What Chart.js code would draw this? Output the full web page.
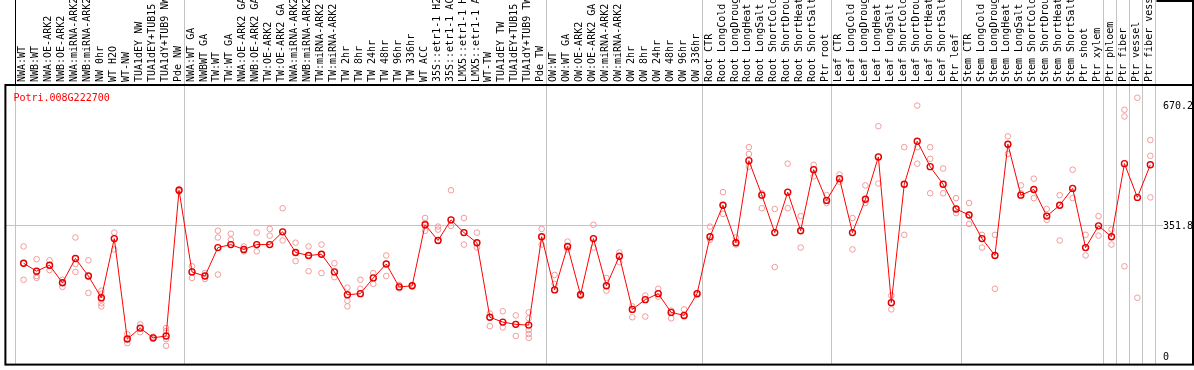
<!DOCTYPE html>
<html><head><meta charset="utf-8">
<script src="https://cdn.jsdelivr.net/npm/chart.js@4/dist/chart.umd.min.js"></script>
<style>html,body{margin:0;padding:0;background:#fff;}canvas{display:block;}</style>
</head><body>
<canvas id="c" width="1194" height="370"></canvas>
<script>
const geneId = 'Potri.008G222700';
const categories = ['NWA:WT','NWB:WT','NWA:OE-ARK2','NWB:OE-ARK2','NWA:miRNA-ARK2','NWB:miRNA-ARK2','NW 0hr','WT H2O','WT-NW','TUA1dEY NW','TUA1dEY+TUB15 NW','TUA1dY+TUB9 NW','Pde NW',
'NWA:WT GA','NWBWT GA','TW:WT','TW:WT GA','NWA:OE-ARK2 GA','NWB:OE-ARK2 GA','TW:OE-ARK2','TW:OE-ARK2 GA','NWA:miRNA-ARK2','NWB:miRNA-ARK2','TW:miRNA-ARK2','TW:miRNA-ARK2','TW 2hr','TW 8hr','TW 24hr','TW 48hr','TW 96hr','TW 336hr','WT ACC','35S::etr1-1 H2O','35S::etr1-1 ACC','LMX5::etr1-1 H2O','LMX5::etr1-1 ACC','WT-TW','TUA1dEY TW','TUA1dEY+TUB15 TW','TUA1dY+TUB9 TW','Pde TW',
'OW:WT','OW:WT GA','OW:OE-ARK2','OW:OE-ARK2 GA','OW:miRNA-ARK2','OW:miRNA-ARK2','OW 2hr','OW 8hr','OW 24hr','OW 48hr','OW 96hr','OW 336hr',
'Root CTR','Root LongCold','Root LongDrought','Root LongHeat','Root LongSalt','Root ShortCold','Root ShortDrought','Root ShortHeat','Root ShortSalt','Ptr root',
'Leaf CTR','Leaf LongCold','Leaf LongDrought','Leaf LongHeat','Leaf LongSalt','Leaf ShortCold','Leaf ShortDrought','Leaf ShortHeat','Leaf ShortSalt','Ptr leaf',
'Stem CTR','Stem LongCold','Stem LongDrought','Stem LongHeat','Stem LongSalt','Stem ShortCold','Stem ShortDrought','Stem ShortHeat','Stem ShortSalt','Ptr shoot','Ptr xylem','Ptr phloem','Ptr fiber','Ptr vessel','Ptr fiber vessel'];

const meanValues = [252,231,247,200,265,218,160,318,50,79,53,58,447,
 229,218,294,302,289,302,302,336,281,273,276,229,168,171,213,250,189,192,355,313,368,334,307,108,95,89,87,323,
 181,297,168,318,192,271,129,155,171,121,113,171,
 323,407,307,526,434,334,442,339,502,420,
 478,334,423,536,147,463,578,510,463,397,
 381,318,273,570,434,449,378,407,452,294,352,323,518,428,515];

const rep1 = [297,263,260,208,321,260,179,334,63,89,56,79,450,
 244,226,339,331,297,334,344,399,307,297,302,252,187,208,226,273,194,194,373,350,447,373,334,118,124,113,121,344,
 221,310,171,355,213,281,137,166,184,126,129,173,
 350,442,321,562,439,397,518,378,515,434,
 489,373,460,618,166,562,673,562,505,426,
 413,328,328,591,460,478,397,434,502,328,378,342,662,694,581];

const rep2 = [208,213,234,189,250,173,171,289,39,68,50,71,444,
 213,210,321,315,284,284,326,313,258,231,226,215,152,184,197,218,189,190,360,342,352,302,294,84,81,58,105,302,
 197,289,168,294,179,255,108,110,163,105,113,170,
 315,384,302,544,399,242,399,294,484,413,
 470,289,413,465,129,328,562,531,439,386,
 357,294,184,544,439,426,368,313,426,273,326,302,644,160,539];

const rep3 = [252,218,247,200,229,218,155,318,50,79,53,50,447,
 229,218,222,302,289,302,302,336,281,273,276,229,137,171,213,250,185,192,339,313,368,334,307,108,95,89,74,323,
 181,297,165,318,192,271,129,155,171,121,110,168,
 323,407,307,510,434,334,442,339,502,420,
 478,334,423,536,147,463,518,439,463,397,
 381,318,273,570,434,449,378,407,452,294,352,323,244,null,428];

// extra replicates: [category index, value]
const extraReps = [[6,145],[6,137],[11,32],[39,63],[39,53]];

const yTickValues = [0, 351.8, 670.2];
const groupEnds = [-1, 12, 40, 52, 62, 72, 83, 84, 85, 86, 87];

const sepValues = groupEnds.map(i => i + 0.4);
const isSep = v => sepValues.some(s => Math.abs(s - v) < 1e-6);
const FONT = {family: '"DejaVu Sans Mono", "Liberation Mono", monospace', size: 10};

const meanData = meanValues.map((v, i) => ({x: i, y: v}));
const repData = arr => arr.map((v, i) => ({x: i, y: v})).filter(p => p.y != null);
const extraData = extraReps.map(([i, v]) => ({x: i, y: v}));

const repStyle = {type: 'line', showLine: false, pointRadius: 2.8, pointBorderWidth: 1,
  pointBorderColor: '#f29a9a', pointBackgroundColor: 'rgba(0,0,0,0)', order: 1};

const frame = {
  id: 'frame',
  afterDraw(chart) {
    const {ctx, chartArea: a, scales} = chart;
    const ys = scales.y, xs = scales.x;
    ctx.save();
    ctx.strokeStyle = '#000';
    ctx.lineWidth = 2;
    ctx.strokeRect(a.left, a.top, ys.right - a.left, a.bottom - a.top);
    const xr = xs.getPixelForValue(sepValues[sepValues.length - 1]);
    ctx.beginPath();
    ctx.moveTo(Math.round(xr) + 0.5, 1);
    ctx.lineTo(ys.right, 1);
    ctx.lineTo(ys.right, a.top);
    ctx.stroke();
    ctx.fillStyle = '#ff0000';
    ctx.font = '10px ' + FONT.family;
    ctx.textBaseline = 'top';
    ctx.fillText(geneId, a.left + 8, a.top + 8);
    ctx.restore();
  }
};

new Chart(document.getElementById('c'), {
  type: 'line',
  data: {
    datasets: [
      {data: meanData, borderColor: '#ff0000', borderWidth: 1, tension: 0,
       pointRadius: 3, pointBorderWidth: 1.4, pointBorderColor: '#e60000',
       pointBackgroundColor: 'rgba(0,0,0,0)', order: 0},
      Object.assign({data: repData(rep1)}, repStyle),
      Object.assign({data: repData(rep2)}, repStyle),
      Object.assign({data: repData(rep3)}, repStyle),
      Object.assign({data: extraData}, repStyle)
    ]
  },
  options: {
    responsive: false,
    animation: false,
    events: [],
    devicePixelRatio: 1,
    layout: {padding: {left: 1, right: 1, top: 0, bottom: 1}},
    plugins: {legend: {display: false}, tooltip: {enabled: false}},
    scales: {
      x: {
        type: 'linear', position: 'top', min: -1.4077, max: 87.977,
        afterBuildTicks: s => {
          s.ticks = categories.map((_, i) => i).concat(sepValues).sort((a, b) => a - b).map(v => ({value: v}));
        },
        afterFit: s => { s.height = 85; s.paddingLeft = 0; s.paddingRight = 0; },
        grid: {
          lineWidth: 1, drawTicks: true, tickLength: 85,
          color: c => (c.tick && isSep(c.tick.value)) ? '#c4c4c4' : 'rgba(0,0,0,0)',
          tickColor: c => (c.tick && isSep(c.tick.value)) ? (c.index === 0 ? '#000' : '#c4c4c4') : 'rgba(0,0,0,0)'
        },
        border: {display: false},
        ticks: {
          autoSkip: false, minRotation: 90, maxRotation: 90, padding: -82, labelOffset: 11,
          color: '#000', font: FONT,
          callback: v => Number.isInteger(v) ? categories[v] : ''
        }
      },
      y: {
        type: 'linear', position: 'right', min: -18.4, max: 728.0,
        afterBuildTicks: s => { s.ticks = yTickValues.map(v => ({value: v})); },
        afterFit: s => { s.width = 30; s.paddingTop = 0; s.paddingBottom = 0; },
        grid: {
          drawTicks: false, lineWidth: 1,
          color: c => (c.tick && c.tick.value === 351.8) ? '#c4c4c4' : 'rgba(0,0,0,0)'
        },
        border: {display: false},
        ticks: {padding: 0, color: '#000', font: FONT, callback: v => String(v)}
      }
    }
  },
  plugins: [frame]
});
</script>
</body></html>
